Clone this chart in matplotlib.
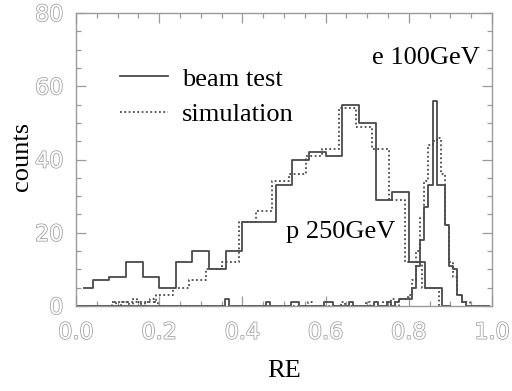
import numpy as np
import matplotlib
matplotlib.use("Agg")
import matplotlib.pyplot as plt
import matplotlib.patheffects as pe
from matplotlib.lines import Line2D

# proton 250 GeV, coarse bins (0.04 wide)
p_beam_re = [0.02, 0.06, 0.10, 0.14, 0.18, 0.22, 0.26, 0.30, 0.34, 0.38, 0.42, 0.46,
             0.50, 0.54, 0.58, 0.62, 0.66, 0.70, 0.74, 0.78, 0.82, 0.86, 0.90]
p_beam_counts = [5, 7, 8, 12, 8, 5, 12, 15, 10, 15, 23, 23,
                 33, 40, 42, 41, 55, 50, 29, 31, 12, 5, 0]

p_sim_re = [0.092, 0.132, 0.172, 0.212, 0.252, 0.292, 0.332, 0.372, 0.412, 0.452, 0.492,
            0.532, 0.572, 0.612, 0.652, 0.692, 0.732, 0.772, 0.812, 0.852, 0.892]
p_sim_counts = [1, 1, 1, 3, 5, 7, 10, 12, 23, 26, 34,
                36, 41, 43, 54, 49, 43, 29, 12, 5, 0]

# electron 100 GeV, fine bins (0.01 wide) - only non-empty bins listed
e_beam_re = [0.362, 0.462, 0.522, 0.532, 0.602, 0.612, 0.662, 0.722, 0.752, 0.772, 0.782,
             0.792, 0.802, 0.812, 0.822, 0.832, 0.842, 0.852, 0.862, 0.872, 0.882,
             0.892, 0.902, 0.912, 0.922, 0.932]
e_beam_counts = [2, 1, 1, 1, 1, 1, 1, 1, 1, 1, 2,
                 2, 2, 5, 11, 18, 27, 33, 56, 33, 33,
                 22, 11, 10, 3, 1]

e_sim_re = [0.092, 0.112, 0.122, 0.142, 0.152, 0.172, 0.182, 0.192, 0.562, 0.642, 0.702,
            0.742, 0.762, 0.782, 0.792, 0.802, 0.812, 0.822, 0.832, 0.842, 0.852,
            0.862, 0.872, 0.882, 0.892, 0.902, 0.912, 0.922, 0.932, 0.942]
e_sim_counts = [1, 1, 1, 2, 1, 1, 2, 1, 1, 1, 1,
                1, 2, 2, 2, 3, 7, 15, 24, 34, 44,
                45, 46, 36, 22, 12, 8, 3, 1, 1]

e_grid = np.round(np.arange(0.002, 1.0, 0.01), 3)


def on_grid(re, counts):
    y = np.zeros(len(e_grid))
    for r, c in zip(re, counts):
        y[np.argmin(np.abs(e_grid - r))] = c
    return y


line_col = "#4a4a4a"
axis_col = "#9a9a9a"
dots = (0, (1.0, 1.4))

fig = plt.figure(figsize=(5.12, 3.91), dpi=100)
ax = fig.add_axes([76 / 512, 1 - 306 / 391, 416 / 512, 293 / 391])

ax.step(p_beam_re, p_beam_counts, where="mid", color=line_col, lw=1.3)
ax.step(p_sim_re, p_sim_counts, where="mid", color=line_col, lw=1.3, linestyle=dots)
ax.step(e_grid, on_grid(e_beam_re, e_beam_counts), where="mid", color=line_col, lw=1.3)
ax.step(e_grid, on_grid(e_sim_re, e_sim_counts), where="mid", color=line_col, lw=1.3,
        linestyle=dots)

ax.set_xlim(0, 1)
ax.set_ylim(0, 80)
ax.set_xticks(np.arange(0, 1.01, 0.2))
ax.set_xticks(np.arange(0, 1.01, 0.05), minor=True)
ax.set_yticks(np.arange(0, 81, 20))
ax.set_yticks(np.arange(0, 81, 5), minor=True)
ax.tick_params(which="both", direction="in", top=True, right=True, color=axis_col,
               width=0.9)
ax.tick_params(which="major", length=7, labelsize=16, pad=9)
ax.tick_params(axis="x", which="major", pad=12)
ax.tick_params(which="minor", length=3.5)
for s in ax.spines.values():
    s.set_color(axis_col)
    s.set_linewidth(1.0)

outline = [pe.withStroke(linewidth=1.2, foreground="#a4a4a4")]
ax.set_xticklabels(["0.0", "0.2", "0.4", "0.6", "0.8", "1.0"])
for lab in ax.get_xticklabels() + ax.get_yticklabels():
    lab.set_color("white")
    lab.set_path_effects(outline)

serif = "Liberation Serif"
ax.set_xlabel("RE", family=serif, fontsize=19)
ax.xaxis.set_label_coords(0.5, -0.186)
ax.set_ylabel("counts", family=serif, fontsize=19)
ax.yaxis.set_label_coords(-0.103, 0.51)

handles = [Line2D([], [], color=line_col, lw=1.3),
           Line2D([], [], color=line_col, lw=1.3, linestyle=dots)]
ax.legend(handles, ["beam test", "simulation"], loc="upper left",
          bbox_to_anchor=(0.106, 0.815), frameon=False, borderpad=0, borderaxespad=0,
          handlelength=1.8, handletextpad=0.55, labelspacing=0.45,
          prop={"family": serif, "size": 19})

ax.text(0.971, 0.846, "e 100GeV", transform=ax.transAxes, ha="right", va="center",
        family=serif, fontsize=19)
ax.text(0.505, 0.253, "p 250GeV", transform=ax.transAxes, ha="left", va="center",
        family=serif, fontsize=19)

fig.savefig("out.png", dpi=100)
